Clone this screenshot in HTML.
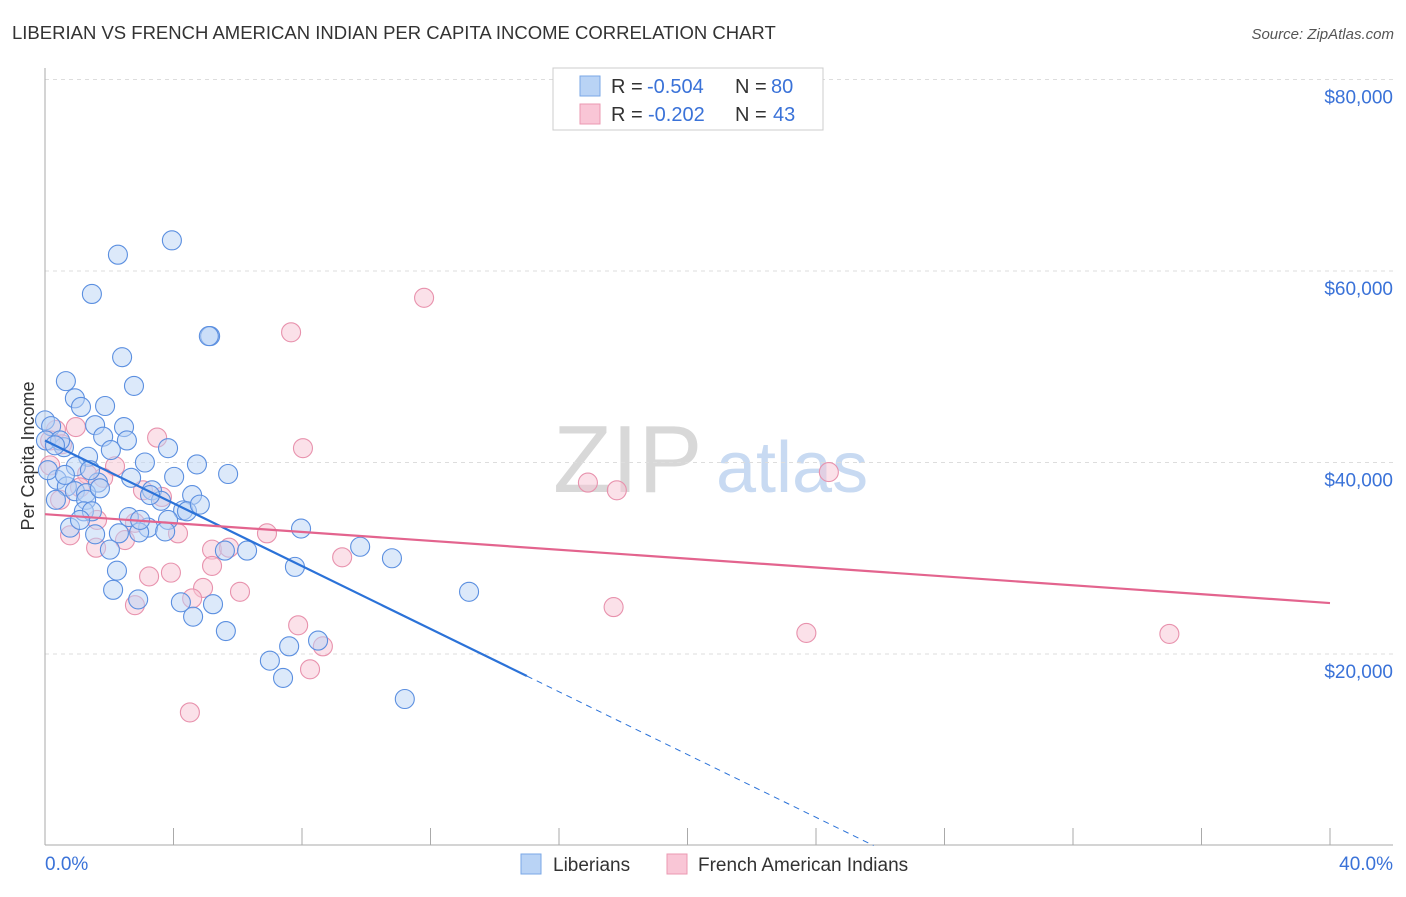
<!DOCTYPE html>
<html><head><meta charset="utf-8"><style>
body{margin:0;background:#fff;font-family:"Liberation Sans",sans-serif}
svg text{font-family:"Liberation Sans",sans-serif}
</style></head><body>
<svg id="chart" width="1406" height="892" xmlns="http://www.w3.org/2000/svg">
<text x="12" y="39" font-size="18.5" fill="#333">LIBERIAN VS FRENCH AMERICAN INDIAN PER CAPITA INCOME CORRELATION CHART</text>
<text x="1394" y="39" font-size="15" fill="#555" text-anchor="end" font-style="italic">Source: ZipAtlas.com</text>
<text x="553" y="492" font-size="96" fill="#d8d8d8" font-family="Liberation Serif">ZIP</text>
<text x="716" y="492" font-size="72" fill="#c8daf2">atlas</text>
<text transform="translate(34,456) rotate(-90)" font-size="18" fill="#333" text-anchor="middle">Per Capita Income</text>
<g id="grid"></g><g id="marks"></g>
<g>
<rect x="553" y="68" width="270" height="62" fill="#fff" stroke="#ccc"/>
<rect x="580" y="76" width="20" height="20" fill="#b9d3f5" stroke="#7aa7e6"/>
<rect x="580" y="104" width="20" height="20" fill="#f9c6d6" stroke="#eb98b2"/>
<text x="611" y="93" font-size="20" fill="#333">R =</text>
<text x="647" y="93" font-size="20" fill="#3a72d8">-0.504</text>
<text x="735" y="93" font-size="20" fill="#333">N =</text>
<text x="771" y="93" font-size="20" fill="#3a72d8">80</text>
<text x="611" y="121" font-size="20" fill="#333">R =</text>
<text x="648" y="121" font-size="20" fill="#3a72d8">-0.202</text>
<text x="735" y="121" font-size="20" fill="#333">N =</text>
<text x="773" y="121" font-size="20" fill="#3a72d8">43</text>
</g>
<g>
<rect x="521" y="854" width="20" height="20" fill="#b9d3f5" stroke="#7aa7e6"/>
<text x="553" y="871" font-size="19" fill="#333">Liberians</text>
<rect x="667" y="854" width="20" height="20" fill="#f9c6d6" stroke="#eb98b2"/>
<text x="698" y="871" font-size="19" fill="#333">French American Indians</text>
</g>
</svg>
<script>
const yTicks=[20000,40000,60000,80000];
const yTickLabels=["$20,000","$40,000","$60,000","$80,000"];
const xTicks=[0,4,8,12,16,20,24,28,32,36,40];
const xEndLabels=["0.0%","40.0%"];
const blueX=[3.95,2.27,1.46,5.14,5.1,2.4,2.77,0.65,0.93,1.12,1.87,0,0.19,1.56,2.46,1.81,2.55,0.03,0.59,2.05,3.83,1.34,3.11,4.73,0.96,5.7,0.37,2.68,4.02,0.68,1.65,0.93,1.28,0.34,3.33,4.58,1.28,3.61,1.21,4.3,4.42,1.46,2.61,3.83,0.78,3.21,7.97,1.56,2.93,3.74,2.3,2.02,5.6,6.29,9.81,10.8,2.24,7.78,2.12,2.9,4.23,5.23,4.61,5.63,8.5,7.6,7.0,7.41,11.2,13.2,0.47,0.09,0.62,1.71,1.09,3.27,4.82,0.31,1.4,2.96];
const blueY=[63.2,61.7,57.6,53.2,53.2,51.0,48.0,48.5,46.7,45.8,45.9,44.4,43.8,43.9,43.7,42.7,42.3,42.3,41.6,41.3,41.5,40.6,40.0,39.8,39.6,38.8,38.2,38.4,38.5,37.5,37.9,37.0,36.8,36.1,37.1,36.6,36.1,36.0,34.9,35.0,34.9,34.9,34.3,34.0,33.2,33.2,33.1,32.5,32.7,32.8,32.6,30.9,30.8,30.8,31.2,30.0,28.7,29.1,26.7,25.7,25.4,25.2,23.9,22.4,21.4,20.8,19.3,17.5,15.3,26.5,42.3,39.2,38.7,37.3,34.0,36.6,35.6,41.8,39.2,34.0];
const pinkX=[11.8,7.66,8.03,3.49,0.96,0.34,0.53,0.16,2.18,1.31,1.81,1.09,3.05,3.64,1.62,0.78,2.49,1.59,2.8,4.14,5.2,6.91,5.73,9.25,5.2,3.24,3.92,4.92,6.07,4.58,2.8,7.88,8.65,8.25,4.51,16.9,17.8,24.4,17.7,23.7,35.0,0.16,0.47];
const pinkY=[57.2,53.6,41.5,42.6,43.7,43.4,41.9,42.3,39.6,38.8,38.4,37.4,37.1,36.4,34.0,32.4,31.9,31.1,33.7,32.6,30.9,32.6,31.1,30.1,29.2,28.1,28.5,26.9,26.5,25.8,25.1,23.0,20.8,18.4,13.9,37.9,37.1,39.0,24.9,22.2,22.1,39.7,36.1];
const blueTrend=[42300,-1640];
const blueSolidEnd=[15.0];
const pinkTrend=[34600,-232];
const NS="http://www.w3.org/2000/svg";
const X=v=>45+v*32.125, Y=v=>845.5-v*0.009575;
function mk(t,a,p){const e=document.createElementNS(NS,t);for(const k in a)e.setAttribute(k,a[k]);p.appendChild(e);return e;}
const grid=document.getElementById('grid'),marks=document.getElementById('marks');
yTicks.forEach((v,i)=>{
 const l=mk('line',{x1:45,x2:1393,y1:Y(v),y2:Y(v),stroke:'#ddd','stroke-dasharray':'4,4'},grid);
 
 
 const t=mk('text',{x:1393,y:Y(v)+24,'font-size':19,fill:'#3a72d8','text-anchor':'end'},grid);
 t.textContent=yTickLabels[i];
 
 
});
const ax=mk('line',{x1:45,x2:45,y1:68,y2:845,stroke:'#aaa'},grid);


const bx=mk('line',{x1:45,x2:1393,y1:845,y2:845,stroke:'#aaa'},grid);


xTicks.forEach(v=>{const t=mk('line',{x1:X(v),x2:X(v),y1:828,y2:845,stroke:'#aaa'},grid);
 
 });
const l0=mk('text',{x:45,y:870,'font-size':19,fill:'#3a72d8'},grid);l0.textContent=xEndLabels[0];


const l1=mk('text',{x:1393,y:870,'font-size':19,fill:'#3a72d8','text-anchor':'end'},grid);l1.textContent=xEndLabels[1];


function pts(xs,ys,fill,stroke,name){xs.forEach((x,i)=>{const c=mk('circle',{cx:X(x),cy:Y(ys[i]*1000),r:9.5,fill:fill,'fill-opacity':0.5,stroke:stroke,'stroke-width':1.1},marks);
 
 });}
pts(pinkX,pinkY,'#f7c3d3','#e892ad','french-american-indian-point');
pts(blueX,blueY,'#b9d3f5','#5b8fe0','liberian-point');
const bf=x=>blueTrend[0]+blueTrend[1]*x;
const zeroX=-blueTrend[0]/blueTrend[1];
const bl=mk('line',{x1:X(0),y1:Y(bf(0)),x2:X(blueSolidEnd[0]),y2:Y(bf(blueSolidEnd[0])),stroke:'#2b72d8','stroke-width':2.2},marks);


const bd=mk('line',{x1:X(blueSolidEnd[0]),y1:Y(bf(blueSolidEnd[0])),x2:X(zeroX),y2:Y(0),stroke:'#2b72d8','stroke-width':1,'stroke-dasharray':'6,5'},marks);


const pf=x=>pinkTrend[0]+pinkTrend[1]*x;
const pl=mk('line',{x1:X(0),y1:Y(pf(0)),x2:X(40),y2:Y(pf(40)),stroke:'#e3648e','stroke-width':2.2},marks);


</script>
</body></html>
